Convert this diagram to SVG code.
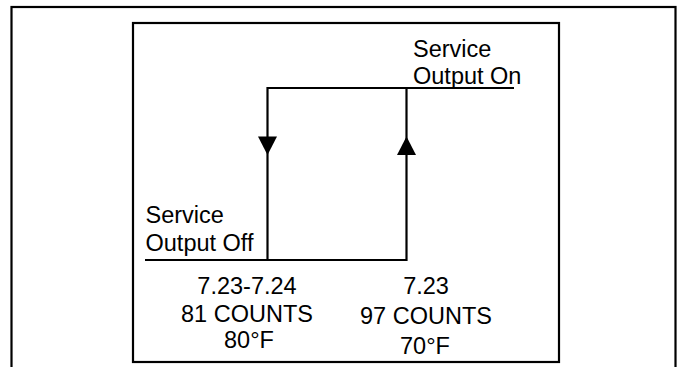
<svg xmlns="http://www.w3.org/2000/svg" width="678" height="367" viewBox="0 0 678 367">
  <style>
    .frame { fill: none; stroke: #000; stroke-width: 2.2; }
    .wire { fill: none; stroke: #000; stroke-width: 2.2; }
    .head { fill: #000; stroke: none; }
    .lbl { font-family: "Liberation Sans", Arial, sans-serif; font-size: 23.5px; fill: #000; }
    .val { font-family: "Liberation Sans", Arial, sans-serif; font-size: 23.5px; fill: #000; text-anchor: middle; }
  </style>
  <rect x="0" y="0" width="678" height="367" fill="#fff"/>
  <rect class="frame" x="11.5" y="7" width="664" height="420"/>
  <rect class="frame" x="133" y="23" width="426" height="339"/>
  <g id="connectors">
    <path class="wire" d="M145,260 H406.5 V88"/>
    <path class="wire" d="M267.5,260 V88 H514"/>
    <polygon class="head" points="258,136.5 277,136.5 267.5,155"/>
    <polygon class="head" points="397,155 416,155 406.5,136.5"/>
  </g>
  <g id="on-label">
    <text class="lbl" x="413" y="56.5">Service</text>
    <text class="lbl" x="413" y="84">Output On</text>
  </g>
  <g id="off-label">
    <text class="lbl" x="145.5" y="223">Service</text>
    <text class="lbl" x="145.5" y="251">Output Off</text>
  </g>
  <g id="off-point">
    <text class="val" x="247" y="294">7.23-7.24</text>
    <text class="val" x="247" y="321.5">81 COUNTS</text>
    <text class="val" x="249" y="348">80°F</text>
  </g>
  <g id="on-point">
    <text class="val" x="426" y="294">7.23</text>
    <text class="val" x="426" y="324">97 COUNTS</text>
    <text class="val" x="425" y="353.5">70°F</text>
  </g>
</svg>
